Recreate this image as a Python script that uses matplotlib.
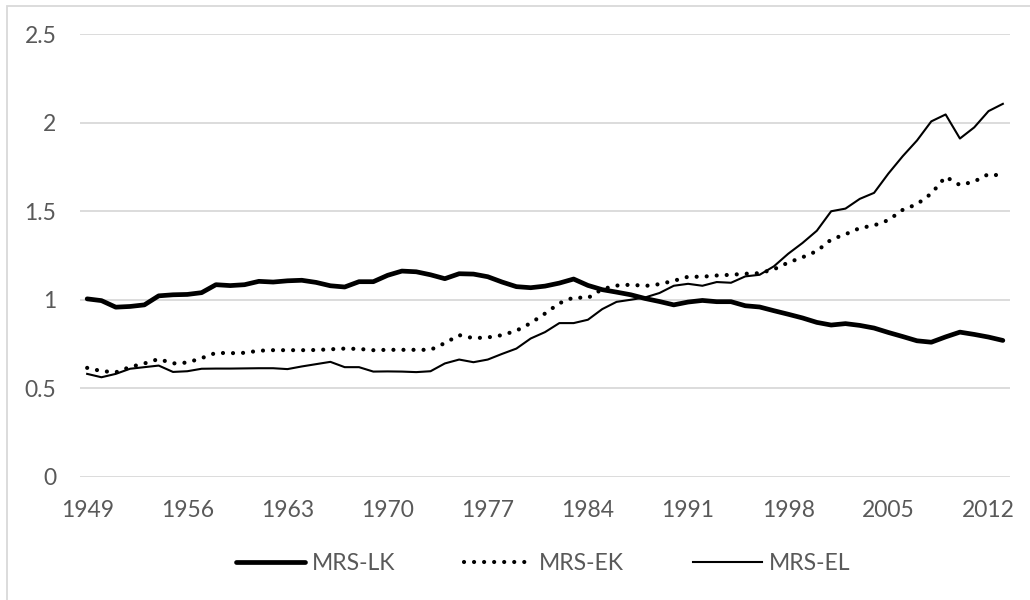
import matplotlib
matplotlib.use("Agg")
import matplotlib.pyplot as plt
from matplotlib.patches import Rectangle
import numpy as np

years = list(range(1949, 2014))

mrs_lk = [1.005, 0.995, 0.958, 0.962, 0.971, 1.022, 1.028, 1.030, 1.040, 1.085,
          1.080, 1.085, 1.104, 1.100, 1.107, 1.110, 1.098, 1.079, 1.072, 1.102,
          1.102, 1.138, 1.162, 1.158, 1.141, 1.119, 1.147, 1.145, 1.130, 1.100,
          1.074, 1.068, 1.077, 1.094, 1.117, 1.081, 1.057, 1.043, 1.028, 1.007,
          0.990, 0.971, 0.987, 0.996, 0.989, 0.989, 0.966, 0.959, 0.938, 0.918,
          0.897, 0.872, 0.857, 0.865, 0.855, 0.840, 0.815, 0.792, 0.768, 0.760,
          0.790, 0.817, 0.804, 0.789, 0.770]

mrs_ek = [0.615, 0.597, 0.590, 0.620, 0.640, 0.665, 0.640, 0.645, 0.670, 0.700,
          0.698, 0.700, 0.712, 0.715, 0.715, 0.715, 0.716, 0.720, 0.724, 0.722,
          0.715, 0.717, 0.717, 0.717, 0.717, 0.755, 0.800, 0.783, 0.787, 0.800,
          0.825, 0.868, 0.922, 0.980, 1.013, 1.010, 1.060, 1.080, 1.085, 1.078,
          1.088, 1.107, 1.130, 1.130, 1.137, 1.141, 1.147, 1.150, 1.172, 1.210,
          1.240, 1.275, 1.340, 1.370, 1.405, 1.420, 1.450, 1.508, 1.540, 1.600,
          1.695, 1.648, 1.668, 1.710, 1.700]

mrs_el = [0.581, 0.562, 0.581, 0.610, 0.619, 0.628, 0.592, 0.596, 0.610, 0.611,
          0.611, 0.612, 0.613, 0.613, 0.608, 0.623, 0.636, 0.649, 0.619, 0.619,
          0.594, 0.595, 0.594, 0.591, 0.596, 0.640, 0.662, 0.647, 0.662, 0.694,
          0.724, 0.781, 0.817, 0.868, 0.868, 0.887, 0.947, 0.988, 1.000, 1.013,
          1.038, 1.079, 1.090, 1.079, 1.100, 1.096, 1.132, 1.141, 1.189, 1.260,
          1.321, 1.390, 1.500, 1.515, 1.570, 1.604, 1.713, 1.811, 1.900, 2.008,
          2.047, 1.911, 1.974, 2.066, 2.107]

y_ticks = [0, 0.5, 1, 1.5, 2, 2.5]
y_tick_labels = ["0", "0.5", "1", "1.5", "2", "2.5"]
x_tick_step = 7

plt.rcParams['font.family'] = ['Lato', 'DejaVu Sans']
text_color = "#595959"
grid_color = "#d9d9d9"

fig = plt.figure(figsize=(10.3, 6.0), dpi=100)
W, H = 1030, 600
ax = fig.add_axes([80 / W, 1 - 476.7 / H, 930 / W, (476.7 - 34.3) / H])

x = np.arange(len(years))
ax.plot(x, mrs_lk, color="black", lw=3.4, solid_joinstyle="round",
        solid_capstyle="round", label="MRS-LK", zorder=3)
ax.plot(x, mrs_ek, color="black", lw=3.0, linestyle=(0, (0.01, 2.4)),
        dash_capstyle="round", label="MRS-EK", zorder=3)
ax.plot(x, mrs_el, color="black", lw=1.5, solid_joinstyle="round",
        label="MRS-EL", zorder=3)

ax.set_xlim(-0.5, len(years) - 0.5)
ax.set_ylim(0, 2.5)
ax.set_yticks(y_ticks)
ax.set_yticklabels(y_tick_labels)
xt = list(range(0, len(years), x_tick_step))
ax.set_xticks(xt)
ax.set_xticklabels([str(years[i]) for i in xt])

for s in ax.spines.values():
    s.set_visible(False)
ax.grid(axis="y", color=grid_color, lw=1.3, zorder=0)
ax.set_axisbelow(True)
ax.tick_params(axis="both", length=0, labelsize=16.5, colors=text_color)
ax.tick_params(axis="y", pad=17)
ax.tick_params(axis="x", pad=17)

leg = fig.legend(loc="center", bbox_to_anchor=(543 / W, 1 - 564 / H), ncol=3,
                 frameon=False, fontsize=16.5, handlelength=3.0,
                 handletextpad=0.3, columnspacing=3.0, labelcolor=text_color)

fig.patches.append(Rectangle((7 / W, -0.01), 1.02, 1 - 6 / H + 0.01,
                             transform=fig.transFigure, fill=False,
                             edgecolor=grid_color, lw=1.3))

fig.savefig("out.png", dpi=100)
